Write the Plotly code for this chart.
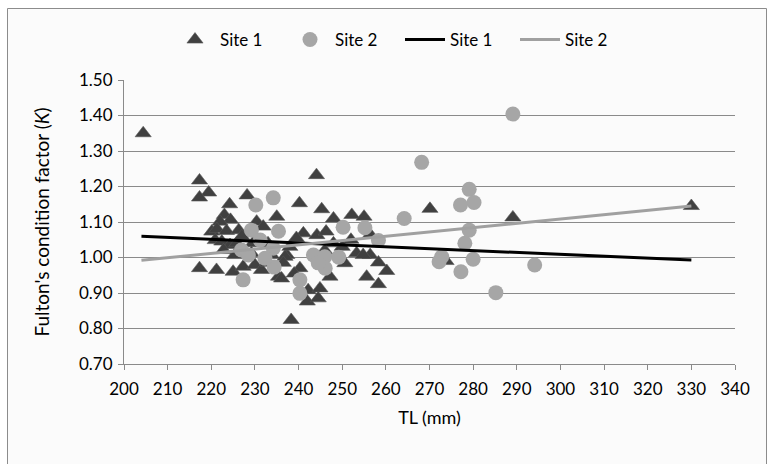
import plotly.graph_objects as go

# Site 1 (triangles)
site1_tl = [204.4, 217.3, 219.4, 217.3, 228.2, 224.2, 223.0, 224.4, 222.0, 230.4,
            220.1, 221.3, 223.5, 226.3, 231.9, 220.9, 222.4, 224.3, 225.8, 225.4,
            222.8, 229.2, 233.8, 217.3, 221.2, 225.0, 227.3, 230.0, 231.5, 235.4,
            235.0, 244.1, 240.2, 245.3, 248.0, 252.2, 255.0, 241.1, 244.2, 246.3,
            237.3, 250.6, 253.3, 240.3, 236.1, 247.2, 242.2, 244.9, 242.0, 244.5,
            238.3, 255.6, 256.4, 258.3, 260.2, 258.3, 256.4, 270.1, 289.1, 330.0,
            273.8, 236.9, 254.8, 233.0, 238.0, 248.0, 252.0, 250.0, 227.0, 229.5,
            246.0, 239.5, 236.5, 239.0, 233.0]
site1_k = [1.350, 1.217, 1.183, 1.169, 1.175, 1.150, 1.120, 1.106, 1.101, 1.101,
           1.073, 1.080, 1.075, 1.077, 1.087, 1.049, 1.045, 1.035, 1.040, 1.007,
           1.021, 1.012, 1.007, 0.970, 0.965, 0.960, 0.974, 0.979, 0.965, 0.946,
           1.115, 1.232, 1.153, 1.136, 1.110, 1.120, 1.115, 1.068, 1.063, 1.073,
           1.007, 0.984, 1.012, 0.970, 0.941, 0.946, 0.908, 0.913, 0.876, 0.885,
           0.824, 0.946, 1.007, 0.986, 0.962, 0.925, 1.065, 1.137, 1.113, 1.145,
           0.990, 1.002, 1.007, 1.040, 1.030, 1.040, 1.050, 1.030, 1.060, 1.040,
           1.020, 1.055, 0.985, 0.955, 0.985]

# Site 2 (circles)
site2_tl = [289.1, 268.2, 279.1, 280.2, 277.1, 264.2, 279.1, 278.1, 272.8, 272.2,
            280.0, 277.2, 294.1, 285.2, 258.3, 255.2, 250.2, 243.4, 246.0, 249.2,
            246.1, 240.3, 240.3, 235.4, 234.2, 234.4, 232.3, 234.2, 230.2, 229.2,
            231.2, 226.9, 228.5, 227.3, 244.5]
site2_k = [1.404, 1.268, 1.192, 1.155, 1.148, 1.110, 1.077, 1.040, 1.002, 0.988,
           0.995, 0.960, 0.979, 0.901, 1.048, 1.084, 1.085, 1.007, 1.002, 1.001,
           0.970, 0.937, 0.899, 1.074, 1.026, 0.973, 0.998, 1.168, 1.148, 1.077,
           1.049, 1.021, 1.007, 0.937, 0.985]

# Linear trend lines (end points)
trend_tl = [204, 330]
site1_trend = [1.060, 0.993]
site2_trend = [0.992, 1.145]

x_ticks = list(range(200, 341, 10))
y_ticks = [0.70, 0.80, 0.90, 1.00, 1.10, 1.20, 1.30, 1.40, 1.50]

FONT = "Lato, Carlito, 'Open Sans', sans-serif"
GRID = "#8a8a8a"
W, H = 767, 464

fig = go.Figure()
fig.add_trace(go.Scatter(x=site1_tl, y=site1_k, mode="markers", name="Site 1",
                         marker=dict(symbol="triangle-up", size=14, color="#404040",
                                     line=dict(color="#555555", width=0.6))))
fig.add_trace(go.Scatter(x=site2_tl, y=site2_k, mode="markers", name="Site 2",
                         marker=dict(symbol="circle", size=15, color="#a6a6a6",
                                     line=dict(width=0))))
fig.add_trace(go.Scatter(x=trend_tl, y=site1_trend, mode="lines", name="Site 1",
                         line=dict(color="#000000", width=3)))
fig.add_trace(go.Scatter(x=trend_tl, y=site2_trend, mode="lines", name="Site 2",
                         line=dict(color="#a0a0a0", width=3)))

ml, mr, mt, mb = 124, 32, 80, 100
pw, ph = W - ml - mr, H - mt - mb

def px(xp):
    return (xp - ml) / pw

def py(yp):
    return (H - mb - yp) / ph

fig.add_shape(type="rect", xref="paper", yref="paper",
              x0=px(7.5), x1=px(766.5), y0=py(470), y1=py(8.5),
              line=dict(color="#8c8c8c", width=1), fillcolor="#fbfbfb", layer="below")

fig.update_layout(
    width=W, height=H,
    margin=dict(l=ml, r=mr, t=mt, b=mb),
    paper_bgcolor="white", plot_bgcolor="rgba(0,0,0,0)",
    font=dict(family=FONT, size=17, color="#000000"),
    showlegend=True,
    legend=dict(orientation="h", x=px(170), xanchor="left", y=py(40), yanchor="middle",
                bgcolor="rgba(0,0,0,0)", font=dict(size=17), itemwidth=40,
                entrywidth=60, entrywidthmode="pixels"),
    xaxis=dict(range=[200, 340], tickvals=x_ticks, ticktext=[str(v) for v in x_ticks],
               showgrid=False, zeroline=False, showline=True, linecolor=GRID, linewidth=1,
               ticks="outside", ticklen=5, tickcolor=GRID, ticklabelstandoff=5,
               title=dict(text="TL (mm)", standoff=12, font=dict(size=18))),
    yaxis=dict(range=[0.70, 1.50], tickvals=y_ticks, ticktext=[f"{v:.2f}" for v in y_ticks],
               showgrid=True, gridcolor=GRID, gridwidth=1, zeroline=False,
               showline=True, linecolor=GRID, linewidth=1,
               ticks="outside", ticklen=5, tickcolor=GRID, ticklabelstandoff=2,
               title=dict(text="Fulton's condition factor (<i>K</i>)", standoff=24,
                          font=dict(size=19))),
)

fig.write_html(
    "out.html",
    config={"displayModeBar": False},
    post_script=("document.body.style.margin='0';"
                 "document.body.style.overflow='hidden';"
                 "document.documentElement.style.overflow='hidden';"),
)
